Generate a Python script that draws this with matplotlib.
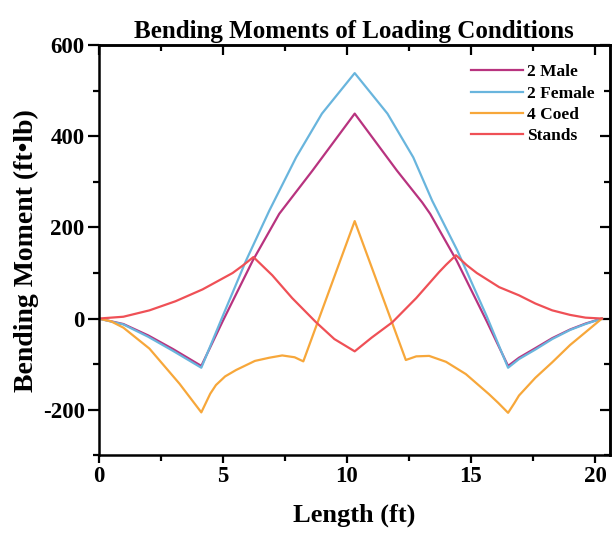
import matplotlib.pyplot as plt
from matplotlib.ticker import MultipleLocator

# Bending moment along the beam (ft, ft*lb) for each loading case
male_x = [0, 1.0, 2.0, 3.0, 4.14, 5.0, 6.21, 7.28, 8.62, 10.32,
          12.02, 13.04, 13.36, 14.43, 15.64, 16.5, 16.94, 17.6, 18.28, 19.0, 19.62, 20.28]
male_y = [0, -12, -37, -67, -104, -6, 127, 230, 325, 450,
          325, 255, 230, 127, -6, -104, -86, -65, -43, -24, -11, 0]

female_x = [0, 1.0, 2.0, 3.0, 4.14, 5.0, 5.94, 6.88, 7.96, 9.0, 10.32,
            11.64, 12.68, 13.44, 14.45, 15.64, 16.5, 16.94, 17.6, 18.28, 19.0, 19.62, 20.28]
female_y = [0, -13, -40, -71, -108, 5, 127, 237, 354, 450, 539,
            450, 354, 259, 150, 5, -108, -89, -68, -45, -25, -12, 0]

coed_x = [0, 0.5, 1.0, 2.05, 3.26, 4.14, 4.5, 4.73, 5.1, 5.54, 6.3, 6.88, 7.4, 7.9, 8.25,
          10.32, 12.38, 12.8, 13.32, 14.0, 14.8, 15.73, 16.1, 16.5, 16.75, 16.94, 17.6,
          18.28, 19.0, 19.62, 20.28]
coed_y = [0, -6, -20, -66, -143, -206, -165, -146, -127, -113, -93, -86, -81, -85, -94,
          214, -91, -83, -82, -95, -122, -166, -185, -207, -186, -169, -130,
          -96, -58, -30, 0]

stands_x = [0, 1.0, 2.05, 3.1, 4.19, 5.4, 5.8, 6.24, 7.0, 7.8, 8.76, 9.5, 10.32,
            11.0, 11.84, 12.8, 13.72, 14.0, 14.4, 14.84, 15.24, 16.14, 16.94, 17.6,
            18.28, 19.0, 19.62, 20.28]
stands_y = [0, 4, 18, 38, 64, 100, 116, 135, 95, 45, -8, -45, -72,
            -42, -8, 45, 102, 118, 139, 117, 100, 69, 51, 33,
            18, 8, 2, 0]

series = [
    ('2 Male', male_x, male_y, '#b8337f'),
    ('2 Female', female_x, female_y, '#69b5dd'),
    ('4 Coed', coed_x, coed_y, '#f7a73a'),
    ('Stands', stands_x, stands_y, '#ef5056'),
]

plt.rcParams['font.family'] = ['Liberation Serif', 'DejaVu Serif']
plt.rcParams['font.weight'] = 'bold'
plt.rcParams['axes.unicode_minus'] = False

fig = plt.figure(figsize=(6.16, 5.33), dpi=100)
ax = fig.add_axes([0.160, 0.146, 0.830, 0.769])

for label, xs, ys, color in series:
    ax.plot(xs, ys, color=color, lw=1.6, label=label)

ax.set_xlim(0, 20.6)
ax.set_ylim(-300, 600)
ax.xaxis.set_major_locator(MultipleLocator(5))
ax.xaxis.set_minor_locator(MultipleLocator(2.5))
ax.yaxis.set_major_locator(MultipleLocator(200))
ax.yaxis.set_minor_locator(MultipleLocator(100))

for side in ax.spines.values():
    side.set_linewidth(1.8)

ax.tick_params(which='both', direction='out', width=1.6, labelsize=16.5, pad=2)
ax.tick_params(axis='y', which='major', length=8)
ax.tick_params(axis='x', which='major', length=6)
ax.tick_params(which='minor', length=4)

# mirrored inward ticks on the top and right frame
top = ax.secondary_xaxis('top')
top.xaxis.set_major_locator(MultipleLocator(5))
top.xaxis.set_minor_locator(MultipleLocator(2.5))
top.tick_params(which='both', direction='in', width=1.6, labeltop=False)
top.tick_params(which='major', length=7)
top.tick_params(which='minor', length=4)
right = ax.secondary_yaxis('right')
right.yaxis.set_major_locator(MultipleLocator(200))
right.yaxis.set_minor_locator(MultipleLocator(100))
right.tick_params(which='both', direction='in', width=1.6, labelright=False)
right.tick_params(which='major', length=7)
right.tick_params(which='minor', length=4)
for sp in list(top.spines.values()) + list(right.spines.values()):
    sp.set_linewidth(1.8)

for t in ax.get_xticklabels() + ax.get_yticklabels():
    t.set_fontweight('bold')

ax.set_title('Bending Moments of Loading Conditions', fontsize=18, fontweight='bold', pad=5)
ax.set_xlabel('Length (ft)', fontsize=19, fontweight='bold', labelpad=12)
ax.set_ylabel('Bending Moment (ft\u2022lb)', fontsize=20, fontweight='bold', labelpad=3)

leg = ax.legend(loc='upper right', bbox_to_anchor=(1.0, 0.992), frameon=False,
                fontsize=12.5, handlelength=3.0, handletextpad=0.2,
                labelspacing=0.3, borderaxespad=0.5)
for t in leg.get_texts():
    t.set_fontweight('bold')

fig.savefig('out.png', dpi=100)
